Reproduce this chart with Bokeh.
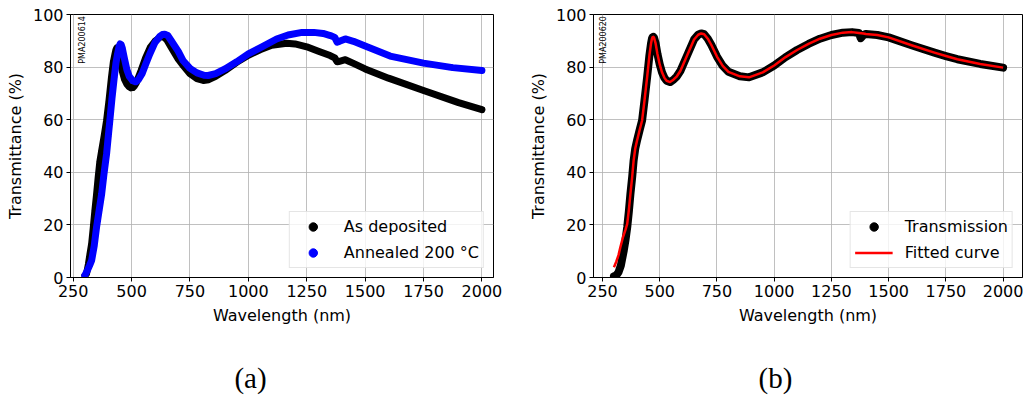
import numpy as np
from bokeh.plotting import figure
from bokeh.layouts import row, column
from bokeh.models import (Legend, LegendItem, Label, FixedTicker, Range1d,
                          ColumnDataSource)
from bokeh.embed import file_html
from bokeh.resources import INLINE

# ---------------- data ----------------
# (a) As deposited
wl_dep = [300, 307, 315, 322, 329, 336, 343, 350, 357, 364, 372, 382, 393, 403, 414, 422,
          429, 433, 437, 441, 445, 450, 460, 470, 480, 490, 497, 505, 512, 520, 540, 560, 580, 600, 621, 633,
          650, 670, 700, 721, 750, 780, 807, 830, 860, 900, 950, 1000, 1050, 1100, 1164,
          1200, 1250, 1300, 1350, 1370, 1380, 1390, 1415, 1450, 1500, 1600, 1750, 1900, 2000]
t_dep = [0.8, 1.4, 5.0, 9.0, 12.8, 19.0, 25.5, 31.5, 38.1, 44.0, 48.3, 53.5, 59.7, 67.0, 76.2, 82.0,
         85.0, 86.6, 87.3, 86.9, 85.5, 83.0, 78.5, 75.3, 73.5, 72.5, 72.1, 72.2, 72.8, 74.0, 78.5, 83.5, 87.5, 89.8, 91.3, 91.8,
         90.5, 87.5, 83.0, 80.6, 77.5, 75.6, 74.9, 75.2, 76.5, 78.7, 81.8, 84.5, 86.6, 88.3, 89.1,
         88.8, 87.7, 86.0, 84.4, 83.5, 82.0, 82.2, 82.8, 81.4, 79.3, 75.8, 71.1, 66.5, 63.8]

# (a) Annealed 200 °C
wl_ann = [300, 310, 320, 329, 340, 350, 361, 372, 382, 393, 400, 407, 416, 426, 433, 440,
          447, 451, 455, 460, 470, 480, 490, 505, 518, 530, 545, 560, 578, 600, 620, 632, 642, 655,
          670, 700, 721, 750, 780, 810, 828, 860, 900, 950, 1000, 1050, 1121, 1170, 1230,
          1280, 1320, 1351, 1370, 1380, 1390, 1415, 1450, 1500, 1607, 1750, 1875, 2000]
t_ann = [0.8, 2.5, 4.5, 6.5, 12.0, 19.1, 25.5, 31.8, 39.5, 47.0, 53.5, 59.7, 68.0, 76.2, 81.5, 85.0,
         88.0, 88.8, 88.6, 87.3, 83.0, 79.0, 76.5, 74.8, 74.4, 75.3, 77.5, 81.0, 85.0, 89.3, 91.6, 92.4, 92.5, 92.0,
         90.0, 86.0, 82.4, 79.5, 77.8, 76.9, 76.8, 77.5, 79.3, 82.0, 85.0, 87.3, 90.7, 92.2, 93.2,
         93.2, 92.8, 92.0, 91.3, 89.5, 89.8, 90.7, 89.8, 88.0, 84.2, 81.5, 79.8, 78.7]

# (b) Transmission
wl_tr = [300, 310, 320, 330, 343, 350, 358, 365, 372, 380, 386, 393, 401, 412, 423, 433,
         445, 455, 462, 466, 469, 472, 475, 482, 490, 500, 510, 520, 530, 545, 560, 575, 590, 620,
         650, 668, 681, 694, 710, 725, 750, 775, 800, 850, 890, 950, 1000, 1050, 1100, 1150, 1200,
         1250, 1300, 1340, 1370, 1378, 1390, 1400, 1450, 1500, 1600, 1700, 1750, 1800, 1900, 2000]
t_tr = [0.5, 0.8, 2.0, 4.5, 10.3, 14.0, 19.1, 25.0, 31.8, 38.5, 44.5, 49.0, 52.1, 56.0, 59.7, 67.0,
        76.2, 84.5, 89.0, 90.8, 91.4, 91.5, 91.2, 89.0, 85.0, 81.0, 78.0, 76.0, 74.8, 74.3, 75.2, 76.5, 78.5, 84.5,
        90.5, 92.3, 92.8, 92.5, 90.8, 88.5, 84.0, 80.5, 78.2, 76.5, 76.1, 78.0, 80.6, 83.8, 86.5, 88.8, 90.8,
        92.2, 93.1, 93.3, 93.0, 91.0, 92.2, 92.6, 92.2, 91.3, 88.3, 85.5, 84.2, 83.0, 81.2, 79.8]

# (b) Fitted curve
wl_fit = [300, 310, 320, 328, 340, 350, 358, 365, 372, 380, 386, 393, 401, 412, 423, 433,
          445, 455, 462, 466, 469, 472, 475, 482, 490, 500, 510, 520, 530, 545, 560, 575, 590, 620,
          650, 668, 681, 694, 710, 725, 750, 775, 800, 850, 890, 950, 1000, 1050, 1100, 1150, 1200,
          1250, 1300, 1340, 1370, 1390, 1400, 1450, 1500, 1600, 1700, 1750, 1800, 1900, 2000]
t_fit = [3.9, 6.0, 8.5, 11.5, 15.5, 18.0, 20.4, 25.5, 31.8, 38.5, 44.5, 49.0, 52.1, 56.0, 59.7, 67.0,
         76.2, 84.5, 89.0, 90.8, 91.4, 91.5, 91.2, 89.0, 85.0, 81.0, 78.0, 76.0, 74.8, 74.3, 75.2, 76.5, 78.5, 84.5,
         90.5, 92.3, 92.8, 92.5, 90.8, 88.5, 84.0, 80.5, 78.2, 76.5, 76.1, 78.0, 80.6, 83.8, 86.5, 88.8, 90.8,
         92.2, 93.1, 93.3, 93.0, 92.8, 92.6, 92.2, 91.3, 88.3, 85.5, 84.2, 83.0, 81.2, 79.8]

x_ticks = [250, 500, 750, 1000, 1250, 1500, 1750, 2000]
y_ticks = [0, 20, 40, 60, 80, 100]
x_label = "Wavelength (nm)"
y_label = "Transmittance (%)"
captions = ["(a)", "(b)"]
FONT = "DejaVu Sans"


def make_fig(width, left, right, xr):
    p = figure(width=width, height=340, output_backend="svg", toolbar_location=None,
               x_range=Range1d(*xr), y_range=Range1d(0, 100),
               min_border_left=left, min_border_right=right,
               min_border_top=14, min_border_bottom=63)
    p.outline_line_color = "black"
    p.outline_line_width = 1
    p.outline_line_alpha = 1
    p.background_fill_color = "white"
    p.border_fill_color = "white"
    p.xaxis.ticker = FixedTicker(ticks=x_ticks)
    p.yaxis.ticker = FixedTicker(ticks=y_ticks)
    p.xaxis.axis_label = x_label
    p.yaxis.axis_label = y_label
    for ax in (p.xaxis[0], p.yaxis[0]):
        ax.axis_line_color = "black"
        ax.major_tick_in = 0
        ax.major_tick_out = 4
        ax.major_tick_line_color = "black"
        ax.minor_tick_line_color = None
        ax.major_label_text_font = FONT
        ax.major_label_text_font_size = "16px"
        ax.major_label_text_color = "black"
        ax.axis_label_text_font = FONT
        ax.axis_label_text_font_size = "16px"
        ax.axis_label_text_font_style = "normal"
        ax.axis_label_text_color = "black"
        ax.major_label_standoff = 3
    p.xaxis.axis_label_standoff = 6
    p.yaxis.axis_label_standoff = 5
    p.grid.grid_line_color = "#b0b0b0"
    p.grid.grid_line_width = 1
    p.grid.grid_line_alpha = 0.8
    return p


def legend_for(p, items):
    lg = Legend(items=items, location="bottom_right", margin=9, padding=4,
                spacing=5, glyph_width=38, glyph_height=21, label_height=21,
                label_standoff=12, label_text_font=FONT, label_text_font_size="16px",
                label_text_color="black", background_fill_alpha=0.8,
                border_line_color="#cccccc", border_line_width=1)
    p.add_layout(lg)


# ---------------- (a) ----------------
pa = make_fig(520, 70, 27, (238.5, 2049.6))
src_dep = ColumnDataSource(dict(x=wl_dep, y=t_dep))
src_ann = ColumnDataSource(dict(x=wl_ann, y=t_ann))
pa.line("x", "y", source=src_dep, line_color="black", line_width=7,
        line_join="round", line_cap="round")
r_dep = pa.scatter("x", "y", source=src_dep, size=5, color="black")
pa.line("x", "y", source=src_ann, line_color="blue", line_width=7,
        line_join="round", line_cap="round")
r_ann = pa.scatter("x", "y", source=src_ann, size=5, color="blue")
legend_for(pa, [LegendItem(label="As deposited", renderers=[r_dep]),
                LegendItem(label="Annealed 200 °C", renderers=[r_ann])])
pa.add_layout(Label(x=290, y=99.4, text="PMA200614", angle=np.pi / 2,
                    text_align="right", text_baseline="middle",
                    text_font=FONT, text_font_size="8px", text_color="black"))

# ---------------- (b) ----------------
pb = make_fig(508, 73, 6, (210.7, 2084.7))
src_tr = ColumnDataSource(dict(x=wl_tr, y=t_tr))
src_fit = ColumnDataSource(dict(x=wl_fit, y=t_fit))
pb.line("x", "y", source=src_tr, line_color="black", line_width=8,
        line_join="round", line_cap="round")
r_tr = pb.scatter("x", "y", source=src_tr, size=5, color="black")
r_fit = pb.line("x", "y", source=src_fit, line_color="red", line_width=2.5,
                line_join="round")
legend_for(pb, [LegendItem(label="Transmission", renderers=[r_tr]),
                LegendItem(label="Fitted curve", renderers=[r_fit])])
pb.add_layout(Label(x=256, y=99.4, text="PMA200620", angle=np.pi / 2,
                    text_align="right", text_baseline="middle",
                    text_font=FONT, text_font_size="8px", text_color="black"))

# ---------------- captions strip ----------------
pc = figure(width=1028, height=59, output_backend="svg", toolbar_location=None,
            x_range=Range1d(0, 1028), y_range=Range1d(59, 0),
            x_axis_type=None, y_axis_type=None, min_border=0)
pc.outline_line_color = None
pc.grid.visible = False
pc.background_fill_color = "white"
pc.border_fill_color = "white"
for txt, cx in zip(captions, [250, 775]):
    pc.add_layout(Label(x=cx, y=37, text=txt, text_align="center",
                        text_baseline="middle", text_font="Liberation Serif",
                        text_font_size="29px", text_color="black"))

layout = column(row(pa, pb), pc)
open("out.html", "w").write(file_html(layout, INLINE))
